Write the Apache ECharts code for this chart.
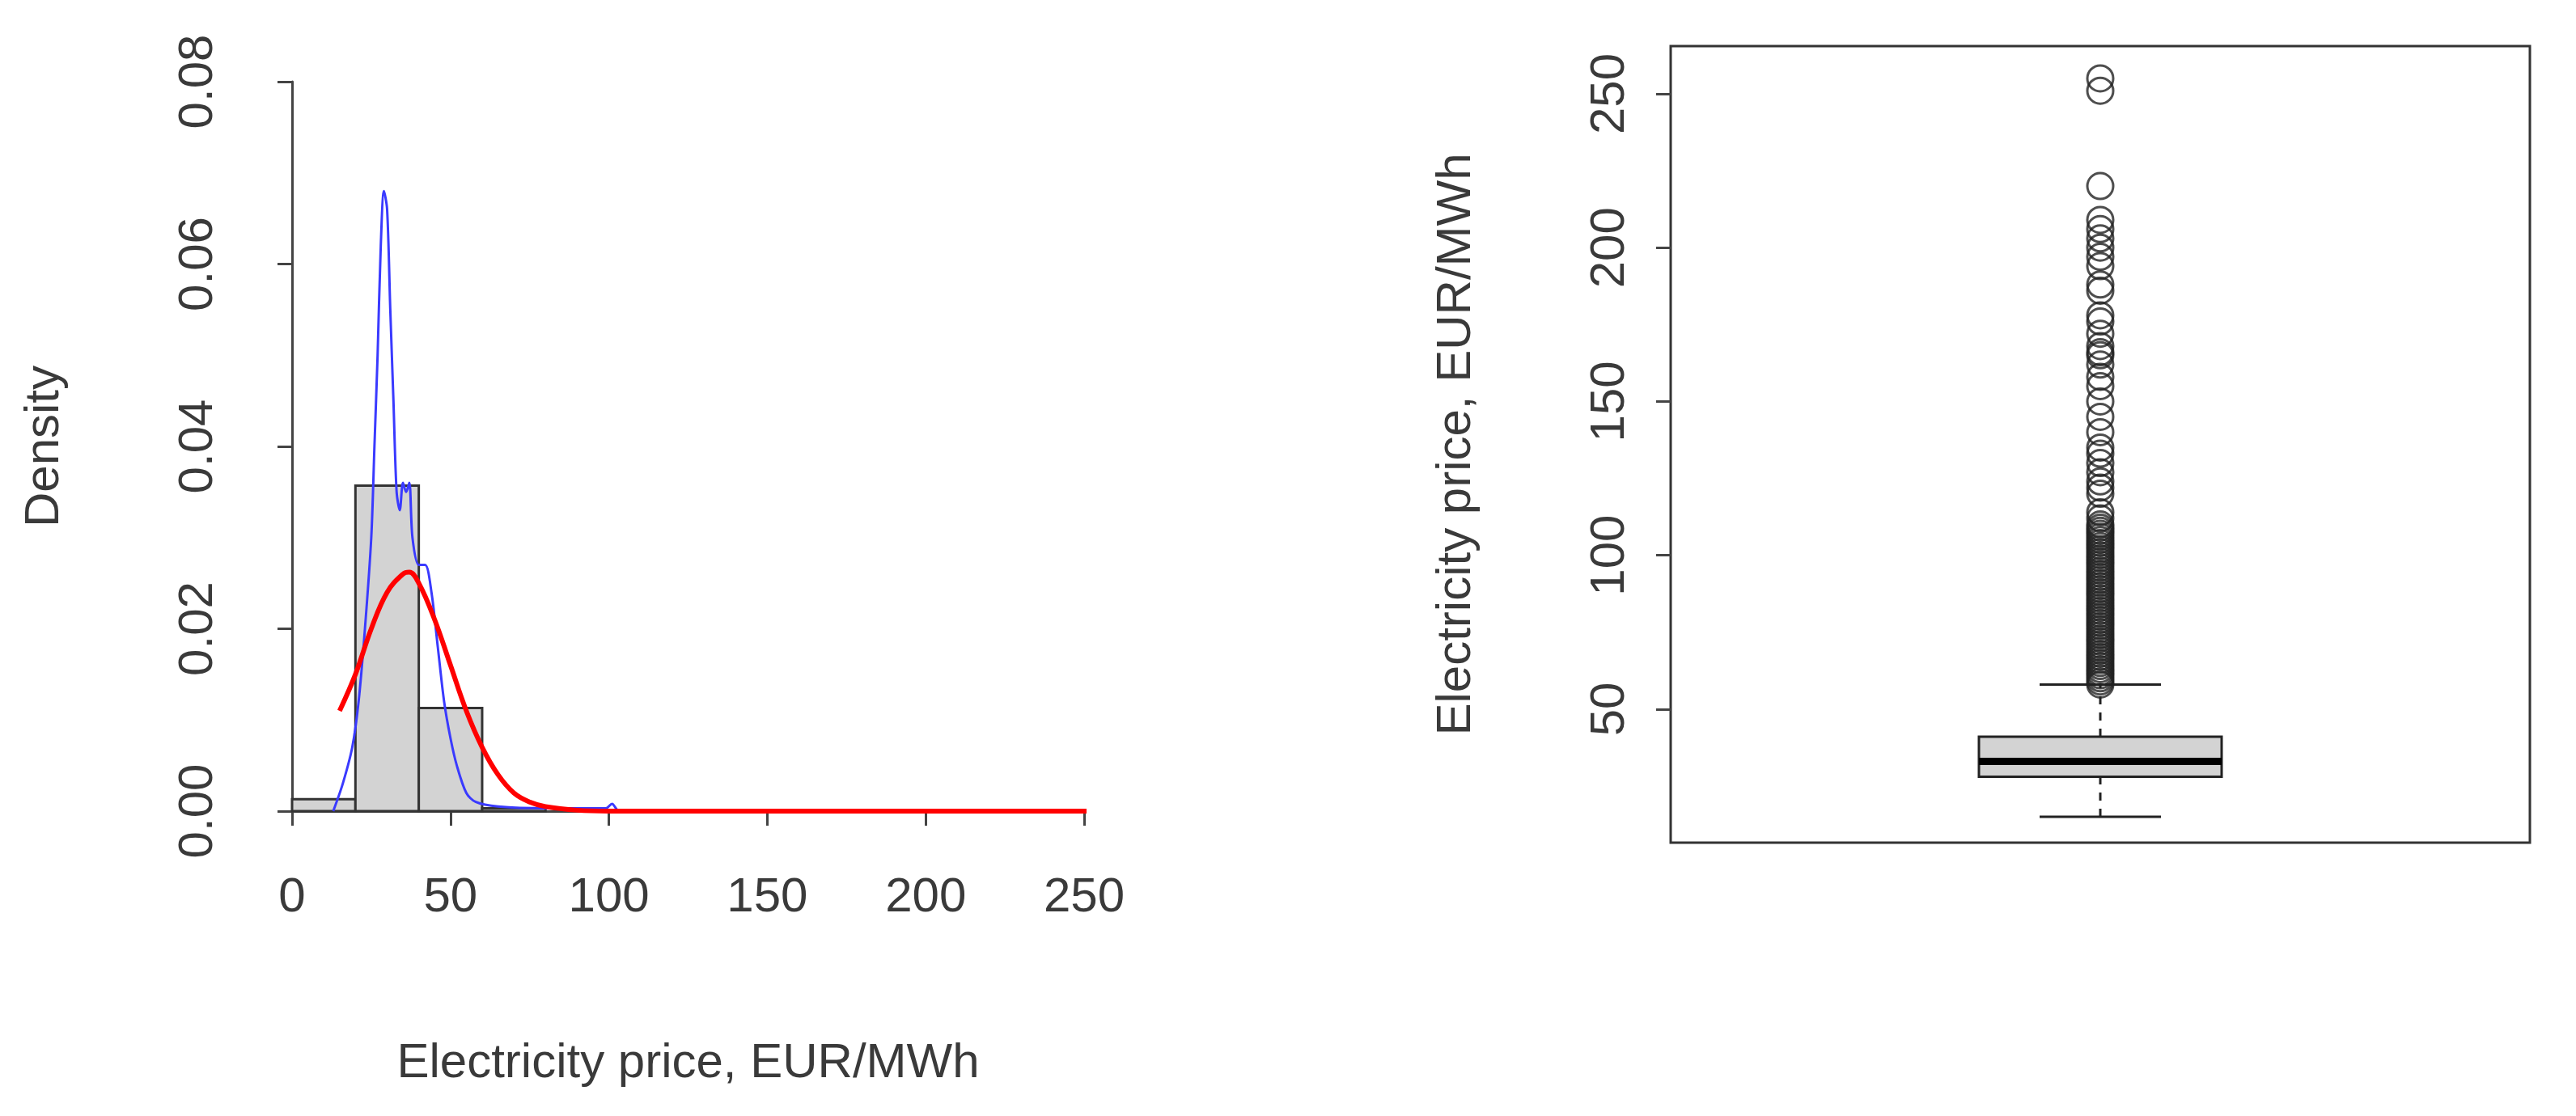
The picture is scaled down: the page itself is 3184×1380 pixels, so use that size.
<!DOCTYPE html>
<html><head><meta charset="utf-8">
<script src="https://cdn.jsdelivr.net/npm/echarts@6/dist/echarts.min.js"></script>
<style>html,body{margin:0;background:#fff}#c{width:3184px;height:1380px}</style>
</head><body><div id="c"></div>
<script>
// histogram bins (price, EUR/MWh) and densities
const binEdges = [[0, 20], [20, 40], [40, 60], [60, 80]]
const binDensity = [0.0013, 0.0357, 0.0113, 0.0003]
// kernel density (blue)
const kdeX = [13, 16, 19, 21, 23, 25, 26, 27, 28, 29, 30, 31, 32, 33, 34, 35, 36, 37, 38, 40, 42, 44, 46, 48, 50, 52, 55, 58, 65, 80, 99, 101, 103, 150, 260]
const kdeY = [0, 0.003, 0.007, 0.012, 0.02, 0.03, 0.04, 0.05, 0.062, 0.068, 0.066, 0.055, 0.045, 0.035, 0.033, 0.036, 0.035, 0.036, 0.03, 0.027, 0.027, 0.024, 0.018, 0.012, 0.008, 0.005, 0.002, 0.001, 0.0005, 0.0003, 0.0003, 0.0008, 0.0001, 0, 0]
// fitted normal curve (red)
const normX = [15, 20, 25, 30, 35, 37, 40, 45, 50, 55, 60, 65, 70, 75, 80, 90, 100, 255]
const normY = [0.011, 0.015, 0.020, 0.024, 0.026, 0.0262, 0.025, 0.021, 0.016, 0.011, 0.007, 0.004, 0.002, 0.001, 0.0005, 0.0001, 0, 0]
// boxplot: min, Q1, median, Q3, max
const boxStats = [15, 28, 33, 41, 58]
const outliers = [58, 59, 60, 61, 62, 63, 64, 65, 66, 67, 68, 69, 70, 71, 72, 73, 74, 75, 76, 77, 78, 79, 80, 81, 82, 83, 84, 85, 86, 87, 88, 89, 90, 91, 92, 93, 94, 95, 96, 97, 98, 99, 100, 101, 102, 103, 104, 105, 106, 107, 108, 109, 110,
  112, 114, 120, 122, 124, 127, 130, 133, 135, 140, 145, 150, 155, 158, 162, 165, 166, 168, 172, 176, 178, 186, 188, 194, 197, 200, 203, 206, 209, 220, 251, 255]
const boxTicks = [50, 100, 150, 200, 250]

const ff = "'Liberation Sans', Arial, sans-serif"
const txt = { color: '#3a3a3a', fontSize: 60, fontFamily: ff }
const axLine = { lineStyle: { color: '#444', width: 3 } }
const tick = { length: 18, lineStyle: { color: '#444', width: 3 } }

const chart = echarts.init(document.getElementById('c'))
chart.setOption({
  animation: false,
  grid: [
    { left: 361, top: 101, width: 979, height: 902 },
    { left: 2065, top: 57, width: 1062, height: 985, show: true, borderColor: '#333', borderWidth: 3 }
  ],
  xAxis: [
    { gridIndex: 0, type: 'value', min: 0, max: 250, interval: 50, offset: 37,
      axisLine: axLine, axisTick: tick,
      axisLabel: Object.assign({ margin: 40 }, txt), splitLine: { show: false },
      name: 'Electricity price, EUR/MWh', nameLocation: 'middle', nameGap: 245, nameTextStyle: txt },
    { gridIndex: 1, type: 'value', min: 0, max: 2, show: false }
  ],
  yAxis: [
    { gridIndex: 0, type: 'value', min: 0, max: 0.08, interval: 0.02, offset: 46,
      axisLine: axLine, axisTick: tick,
      axisLabel: Object.assign({ rotate: 90, margin: 40, formatter: v => v.toFixed(2) }, txt),
      splitLine: { show: false },
      name: 'Density', nameLocation: 'middle', nameGap: 230, nameTextStyle: txt },
    { gridIndex: 1, type: 'value', min: 6.6, max: 265.5,
      axisLine: { show: false },
      axisTick: Object.assign({ show: true, customValues: boxTicks }, tick),
      axisLabel: Object.assign({ rotate: 90, margin: 45, customValues: boxTicks }, txt),
      splitLine: { show: false },
      name: 'Electricity price, EUR/MWh', nameLocation: 'middle', nameGap: 235, nameTextStyle: txt }
  ],
  series: [
    { type: 'custom', xAxisIndex: 0, yAxisIndex: 0, z: 2,
      data: binEdges.map((e, i) => [e[0], e[1], binDensity[i]]),
      renderItem: (params, api) => {
        const p0 = api.coord([api.value(0), 0])
        const p1 = api.coord([api.value(1), api.value(2)])
        return { type: 'rect', shape: { x: p0[0], y: p1[1], width: p1[0] - p0[0], height: p0[1] - p1[1] },
          style: { fill: '#d3d3d3', stroke: '#333', lineWidth: 3 } }
      } },
    { type: 'line', xAxisIndex: 0, yAxisIndex: 0, z: 3, smooth: 0.3, symbol: 'none',
      data: kdeX.map((x, i) => [x, kdeY[i]]), lineStyle: { color: '#3a3aff', width: 3 } },
    { type: 'line', xAxisIndex: 0, yAxisIndex: 0, z: 4, smooth: 0.4, symbol: 'none',
      data: normX.map((x, i) => [x, normY[i]]), lineStyle: { color: '#ff0000', width: 6 } },
    // R-style boxplot: box, thick median, dashed whiskers, short caps
    { type: 'custom', xAxisIndex: 1, yAxisIndex: 1, z: 2,
      data: [[1].concat(boxStats)],
      renderItem: (params, api) => {
        const cx = api.coord([api.value(0), 0])[0]
        const y = i => api.coord([0, api.value(i)])[1]
        const hw = 150, cw = 75
        const st = { stroke: '#222', lineWidth: 3 }
        return { type: 'group', children: [
          { type: 'line', shape: { x1: cx, y1: y(1), x2: cx, y2: y(2) }, style: Object.assign({ lineDash: [10, 10] }, st) },
          { type: 'line', shape: { x1: cx, y1: y(4), x2: cx, y2: y(5) }, style: Object.assign({ lineDash: [10, 10] }, st) },
          { type: 'line', shape: { x1: cx - cw, y1: y(1), x2: cx + cw, y2: y(1) }, style: st },
          { type: 'line', shape: { x1: cx - cw, y1: y(5), x2: cx + cw, y2: y(5) }, style: st },
          { type: 'rect', shape: { x: cx - hw, y: y(4), width: 2 * hw, height: y(2) - y(4) }, style: Object.assign({ fill: '#d3d3d3' }, st) },
          { type: 'line', shape: { x1: cx - hw, y1: y(3), x2: cx + hw, y2: y(3) }, style: { stroke: '#000', lineWidth: 9 } }
        ] }
      } },
    { type: 'scatter', xAxisIndex: 1, yAxisIndex: 1, symbol: 'circle', symbolSize: 32, z: 3,
      data: outliers.map(v => [1, v]),
      itemStyle: { color: 'rgba(255,255,255,0)', borderColor: '#222', borderWidth: 3 } }
  ]
})
</script></body></html>
